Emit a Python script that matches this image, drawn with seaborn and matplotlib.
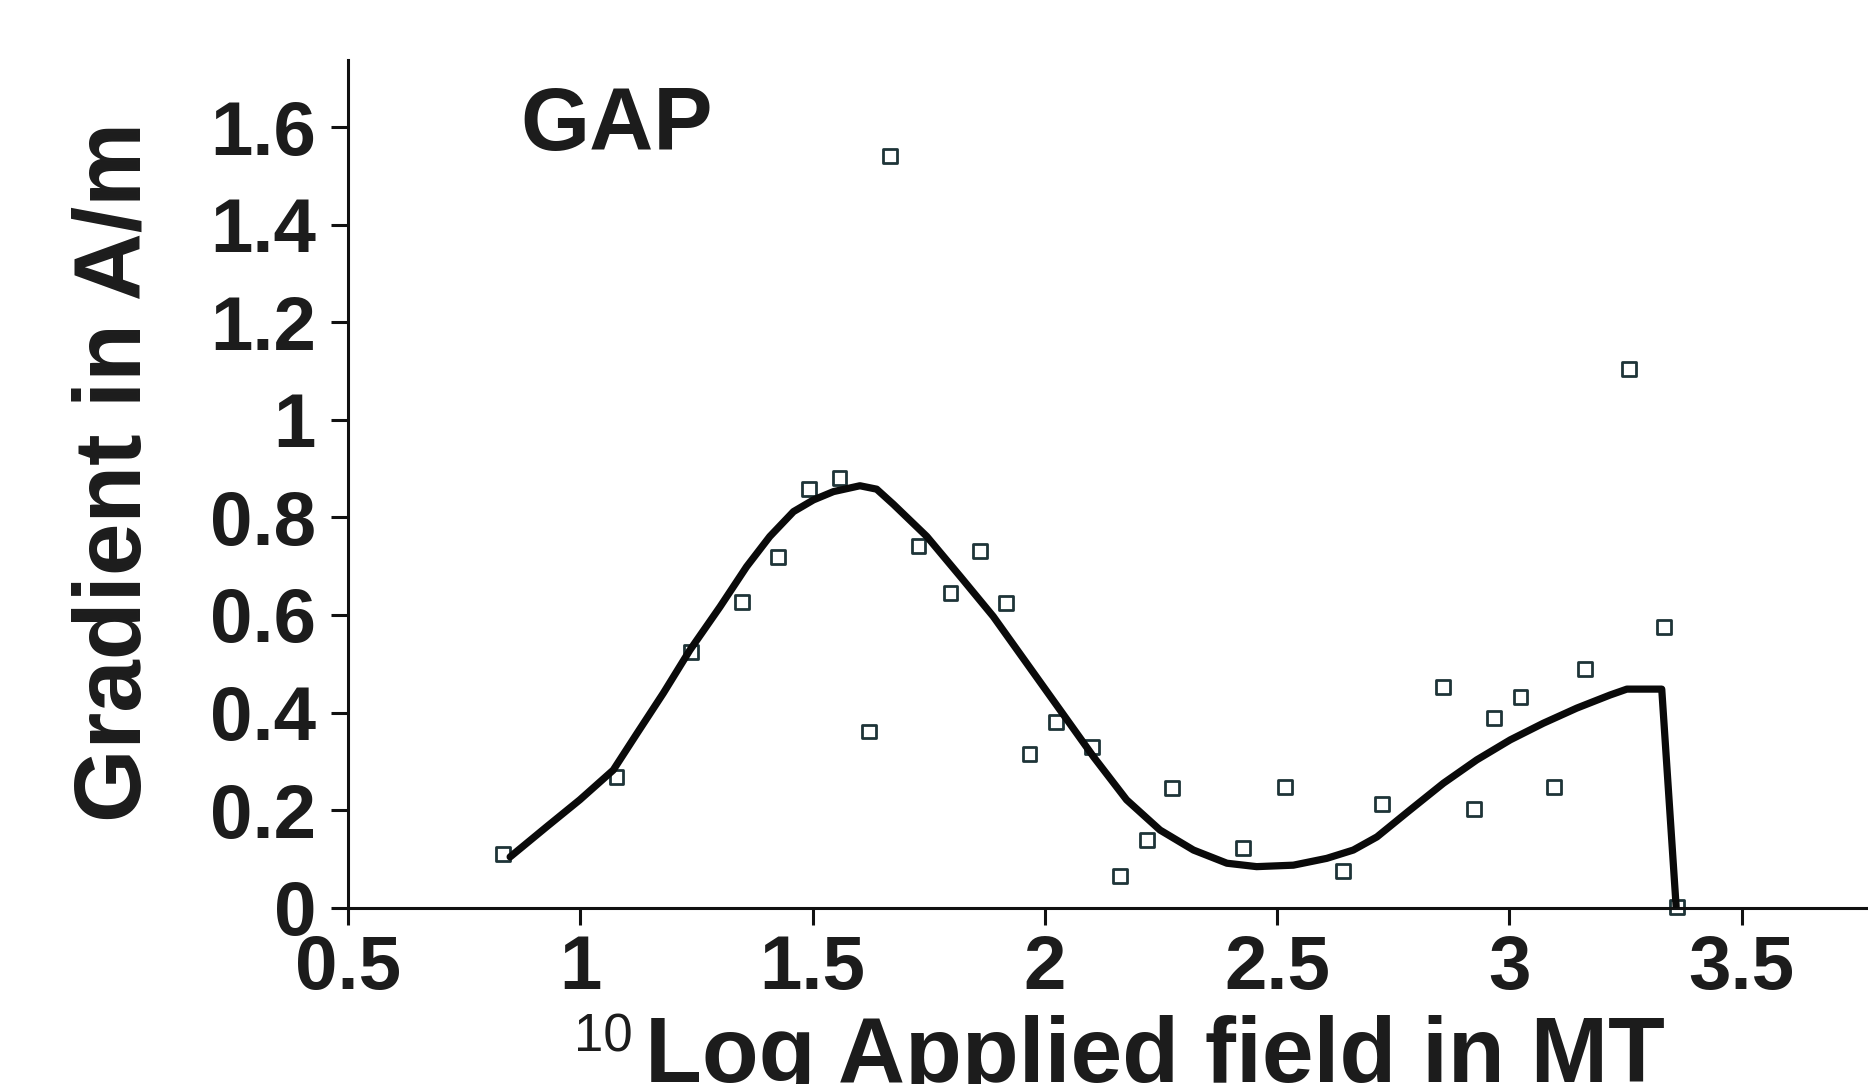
import matplotlib
matplotlib.use("Agg")
import matplotlib.pyplot as plt
import seaborn as sns

# ---- data ----
field_log = [0.833, 1.078, 1.238, 1.349, 1.425, 1.493, 1.558, 1.622, 1.666, 1.728,
             1.797, 1.860, 1.917, 1.967, 2.025, 2.101, 2.161, 2.219, 2.273, 2.427,
             2.517, 2.641, 2.725, 2.857, 2.924, 2.966, 3.024, 3.097, 3.162, 3.257,
             3.332, 3.361]
gradient = [0.110, 0.267, 0.524, 0.626, 0.718, 0.858, 0.880, 0.361, 1.542, 0.741,
            0.645, 0.731, 0.625, 0.315, 0.381, 0.330, 0.065, 0.139, 0.245, 0.122,
            0.248, 0.075, 0.212, 0.452, 0.202, 0.388, 0.431, 0.248, 0.489, 1.105,
            0.576, 0.002]

fit_x = [0.849, 0.928, 0.999, 1.071, 1.122, 1.179, 1.236, 1.301, 1.358, 1.408,
         1.459, 1.502, 1.545, 1.602, 1.638, 1.674, 1.746, 1.818, 1.889, 1.961,
         2.033, 2.105, 2.176, 2.248, 2.320, 2.392, 2.456, 2.535, 2.607, 2.664,
         2.715, 2.786, 2.858, 2.930, 3.002, 3.073, 3.145, 3.217, 3.253, 3.328,
         3.359]
fit_y = [0.104, 0.166, 0.221, 0.282, 0.357, 0.440, 0.528, 0.617, 0.699, 0.761,
         0.812, 0.836, 0.853, 0.865, 0.858, 0.827, 0.761, 0.679, 0.597, 0.501,
         0.405, 0.309, 0.221, 0.159, 0.118, 0.091, 0.084, 0.087, 0.101, 0.118,
         0.145, 0.200, 0.255, 0.303, 0.344, 0.378, 0.409, 0.436, 0.448, 0.448,
         0.002]

x_ticks = [0.5, 1.0, 1.5, 2.0, 2.5, 3.0, 3.5]
x_tick_labels = ["0.5", "1", "1.5", "2", "2.5", "3", "3.5"]
y_ticks = [0.0, 0.2, 0.4, 0.6, 0.8, 1.0, 1.2, 1.4, 1.6]
y_tick_labels = ["0", "0.2", "0.4", "0.6", "0.8", "1", "1.2", "1.4", "1.6"]

panel_title = "GAP"
x_label = "Log Applied field in MT"
x_label_sup = "10"
y_label = "Gradient in A/m"

# ---- style ----
sns.set_theme(style="ticks")
plt.rcParams["font.family"] = ["Liberation Sans", "DejaVu Sans"]
plt.rcParams["font.weight"] = "bold"
TXT = "#1c1c1c"

W, H = 1868, 1084
fig = plt.figure(figsize=(W / 100, H / 100), dpi=100)
fig.patch.set_facecolor("white")
ax_l, ax_b, ax_t = 348, 907.6, 60
ax = fig.add_axes([ax_l / W, 1 - ax_b / H, (W - ax_l) / W, (ax_b - ax_t) / H])
ax.set_facecolor("white")

sns.scatterplot(x=field_log, y=gradient, marker="s", s=100, facecolor="none",
                edgecolor="#1e3438", linewidth=2.0, ax=ax, zorder=2, clip_on=False)
sns.lineplot(x=fit_x, y=fit_y, sort=False, estimator=None, color="#0a0a0a",
             linewidth=5.2, ax=ax, zorder=3, solid_joinstyle="round",
             solid_capstyle="round")

ax.set_xlim(0.5, 3.772)
ax.set_ylim(0, 1.738)
ax.set_xticks(x_ticks)
ax.set_xticklabels(x_tick_labels)
ax.set_yticks(y_ticks)
ax.set_yticklabels(y_tick_labels)

for s in ["top", "right"]:
    ax.spines[s].set_visible(False)
for s in ["left", "bottom"]:
    ax.spines[s].set_linewidth(2.2)
    ax.spines[s].set_color("#111111")

ax.tick_params(axis="both", direction="out", length=12, width=2.2, color="#111111",
               labelsize=55, labelcolor=TXT)
ax.tick_params(axis="x", pad=7)
ax.tick_params(axis="y", pad=11)
for lab in ax.get_xticklabels() + ax.get_yticklabels():
    lab.set_fontweight("bold")

ax.set_xlabel(x_label, fontsize=67, fontweight="bold", color=TXT)
ax.xaxis.label.set_ha("left")
ax.xaxis.label.set_va("baseline")
ax.xaxis.set_label_coords((645 - ax_l) / (W - ax_l), (ax_b - 1082) / (ax_b - ax_t))

ax.text((574 - ax_l) / (W - ax_l), (ax_b - 1051) / (ax_b - ax_t), x_label_sup,
        transform=ax.transAxes, fontsize=38, fontweight="normal", color=TXT,
        ha="left", va="baseline", clip_on=False)

ax.set_ylabel(y_label, fontsize=68, fontweight="bold", color=TXT)
ax.yaxis.label.set_va("baseline")
ax.yaxis.set_label_coords((141 - ax_l) / (W - ax_l), (ax_b - 472) / (ax_b - ax_t))

ax.text((520 - ax_l) / (W - ax_l), (ax_b - 150) / (ax_b - ax_t), panel_title,
        transform=ax.transAxes, fontsize=64, fontweight="bold", color=TXT,
        ha="left", va="baseline")

fig.savefig("out.png", dpi=100, facecolor="white")
